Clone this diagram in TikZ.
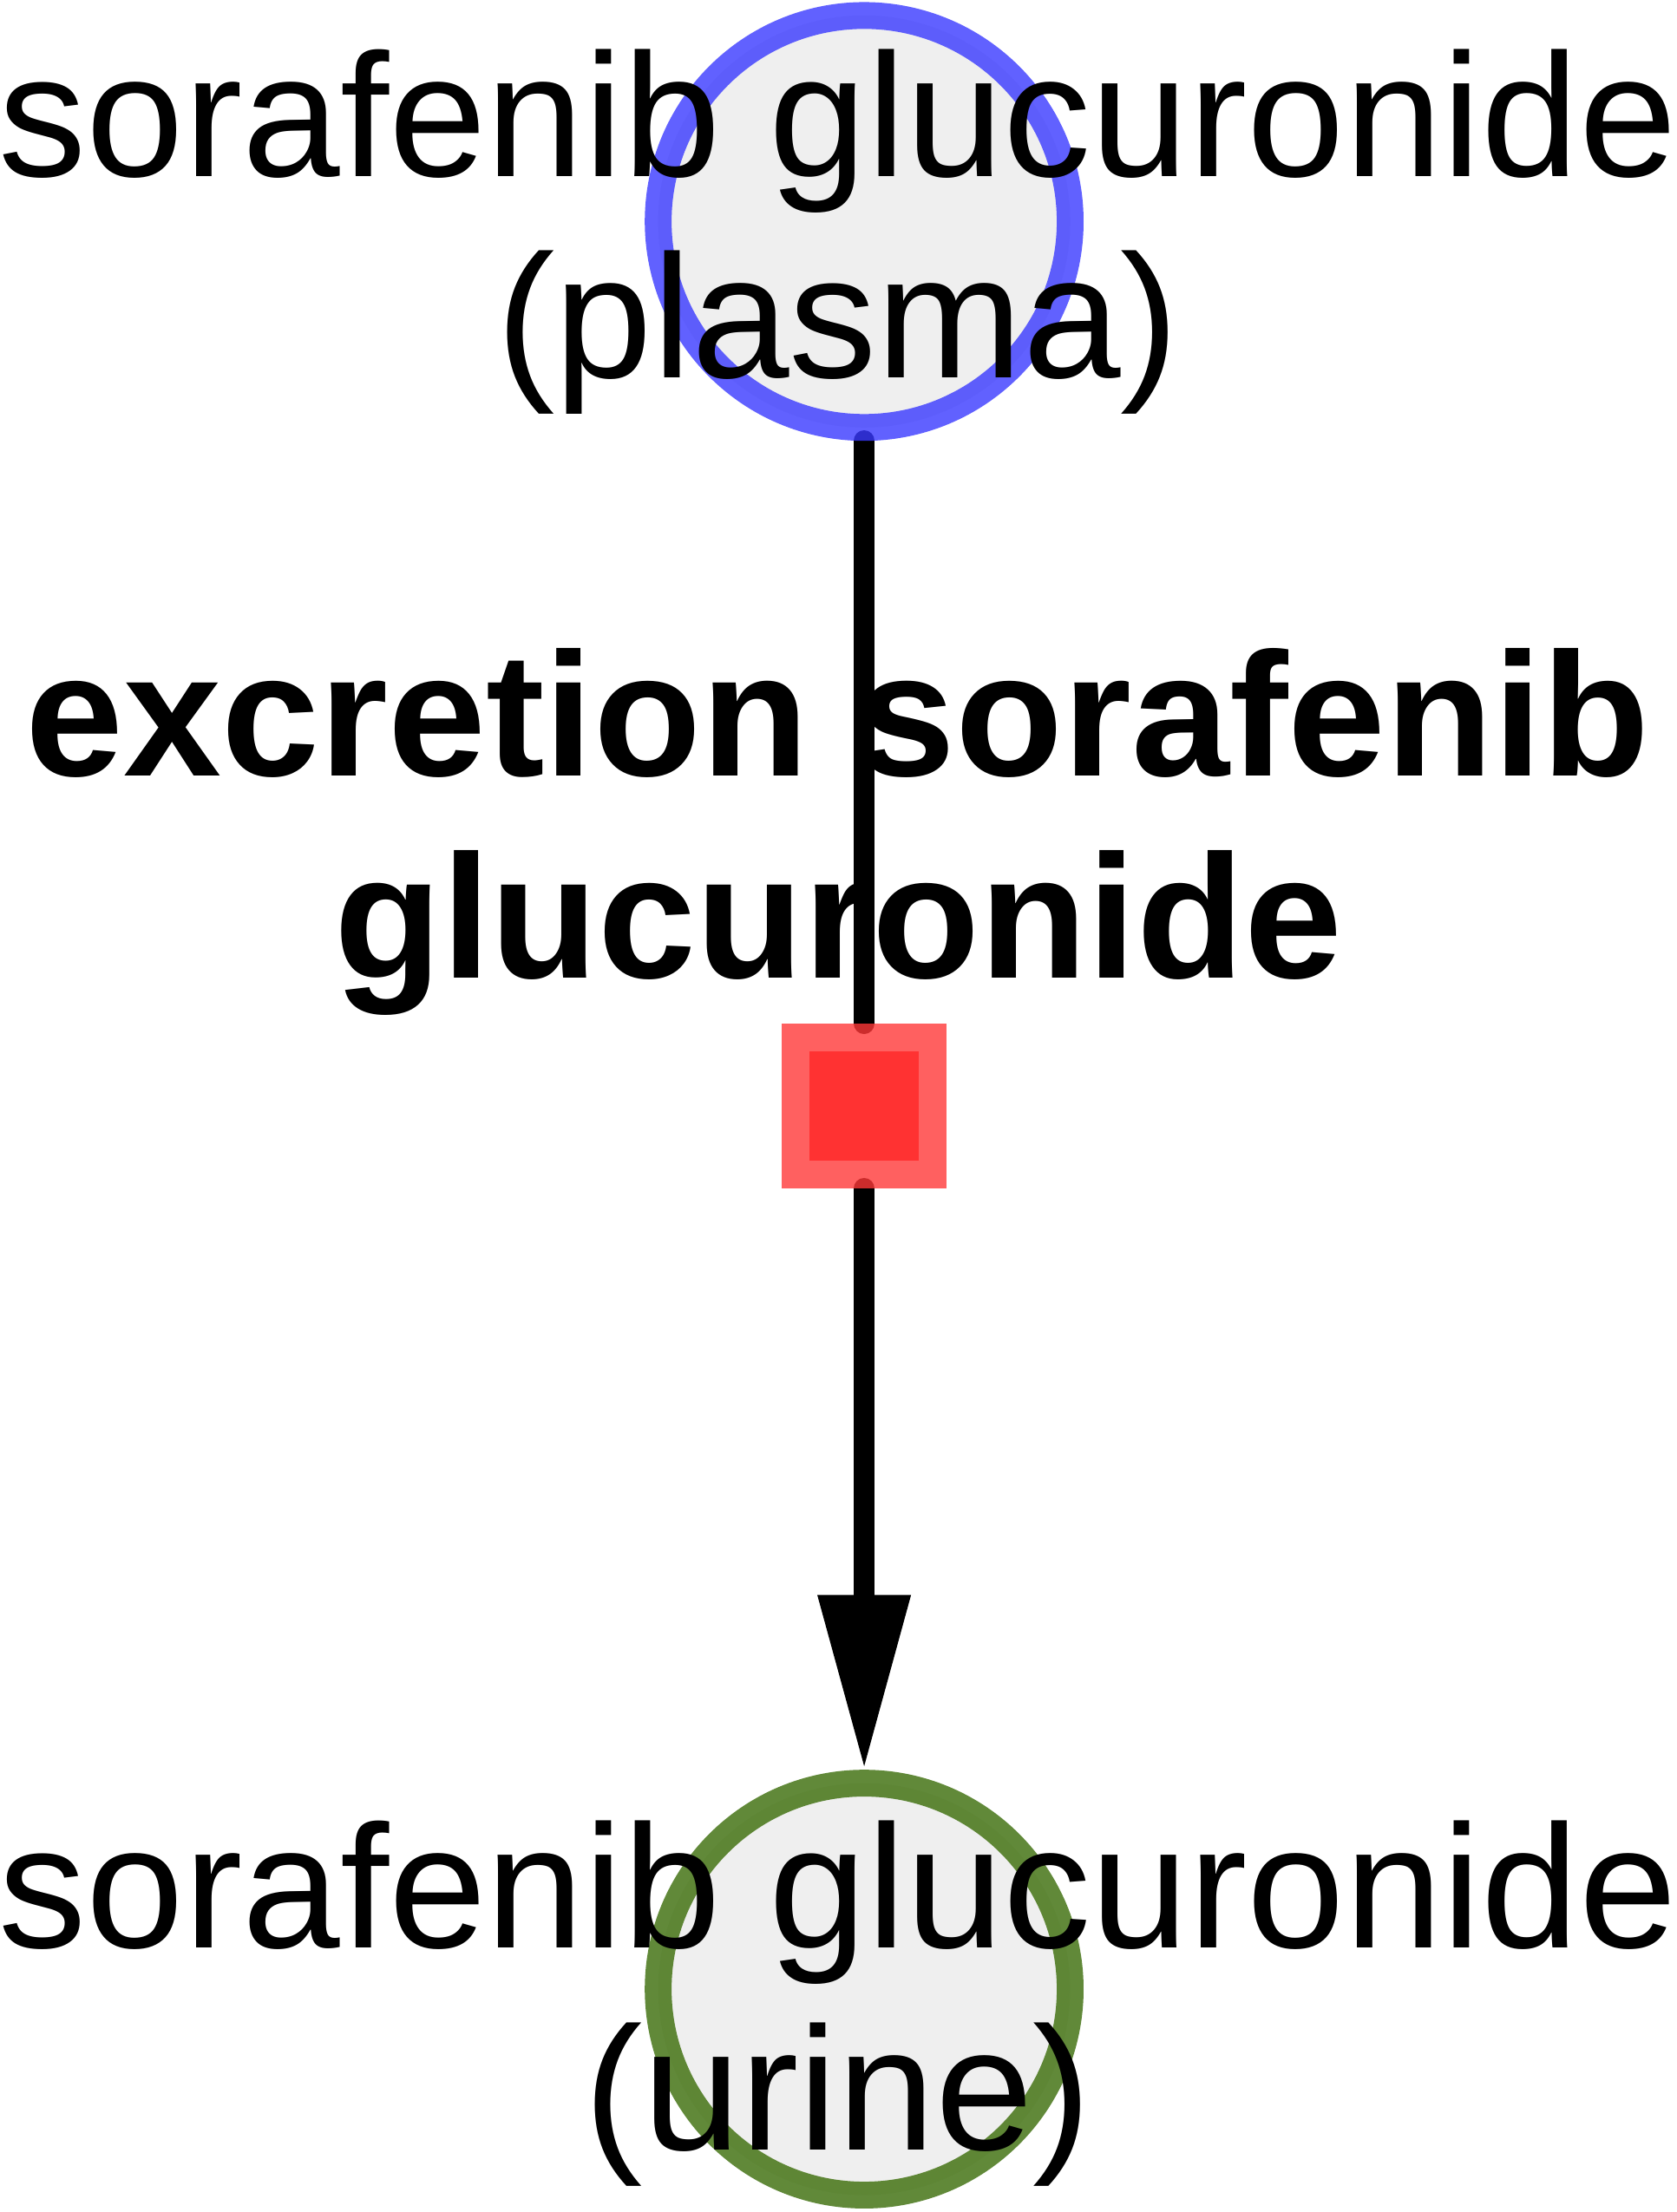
\documentclass[tikz,border=0pt]{standalone}
\usepackage{fontspec}
\setmainfont{Liberation Sans}
\usetikzlibrary{arrows.meta}
\definecolor{plasmaring}{RGB}{57,57,255}
\definecolor{urinering}{RGB}{58,108,8}
\definecolor{poolfill}{RGB}{235,235,235}
\definecolor{rxnedge}{RGB}{255,56,56}
\definecolor{rxncore}{RGB}{255,40,40}
\pgfdeclarelayer{edges}
\pgfsetlayers{edges,main}
\tikzset{
  pool/.style = {circle, minimum size=292bp, line width=19bp, inner sep=0pt, fill=poolfill, opacity=0.8},
  rxnbox/.style = {rectangle, minimum size=117bp, inner sep=0pt, outer sep=0pt, fill=rxnedge, fill opacity=0.8},
  rxnmid/.style = {rectangle, minimum size=77bp, inner sep=0pt, fill=rxncore, fill opacity=0.8},
  flow/.style = {line width=15bp, line cap=round},
  lbl/.style = {align=center, inner sep=0pt, font=\fontsize{124.4bp}{143bp}\selectfont},
  rxnlbl/.style = {lbl, font=\fontsize{124.8bp}{143bp}\selectfont\bfseries}
}
\begin{document}
\begin{tikzpicture}[x=1bp, y=-1bp]
\useasboundingbox (0,0) rectangle (1188,1568);
\node[pool, draw=plasmaring] (plasma) at (612.5,157) {};
\node[pool, draw=urinering] (urine) at (612.5,1410) {};
\node[rxnbox] (rxn) at (612.5,784) {};
\node[rxnmid] (rxncentre) at (rxn) {};
\begin{pgfonlayer}{edges}
\draw[flow] (plasma.south) -- (rxn.north);
\draw[flow, -{Triangle[length=124bp, width=62bp]}] (rxn.south) -- (urine.north);
\end{pgfonlayer}
% base = last line of each label
\node[lbl, anchor=base] (plasmalbl) at (594,268) {sorafenib glucuronide\\(plasma)};
\node[rxnlbl, anchor=base] (rxnlabel) at (594,693) {excretion sorafenib\\glucuronide};
\node[lbl, anchor=base] (urinelbl) at (594,1524) {sorafenib glucuronide\\(urine)};
\end{tikzpicture}
\end{document}
